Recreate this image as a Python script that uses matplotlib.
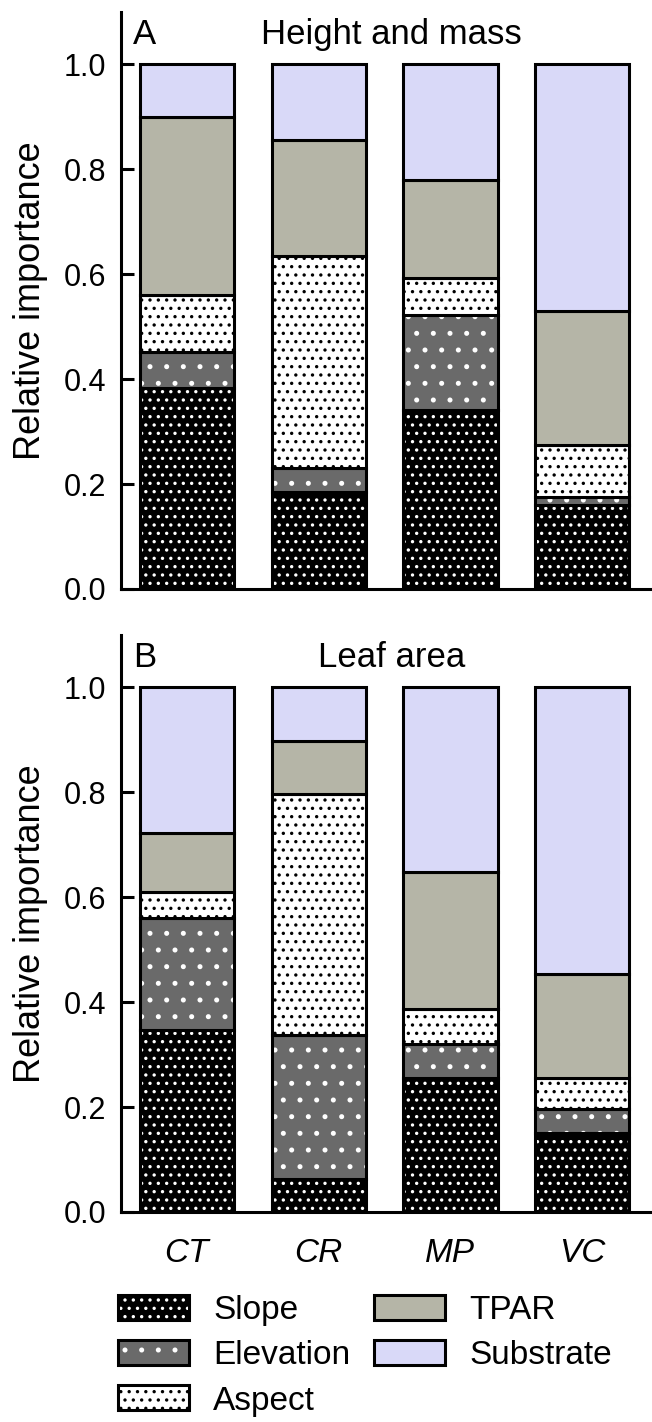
import matplotlib
matplotlib.use('Agg')
import matplotlib.pyplot as plt
from matplotlib.patches import Patch
import numpy as np

plt.rcParams['font.family'] = ['Liberation Sans', 'DejaVu Sans']
plt.rcParams['hatch.linewidth'] = 1.2

sites = ['CT', 'CR', 'MP', 'VC']
factors = ['Slope', 'Elevation', 'Aspect', 'TPAR', 'Substrate']

# relative importance of each factor per site (segments stacked bottom to top)
height_mass = {
    'Slope':     [0.383, 0.185, 0.341, 0.160],
    'Elevation': [0.068, 0.045, 0.181, 0.015],
    'Aspect':    [0.109, 0.405, 0.070, 0.099],
    'TPAR':      [0.339, 0.220, 0.188, 0.256],
    'Substrate': [0.101, 0.145, 0.220, 0.470],
}
leaf_area = {
    'Slope':     [0.346, 0.063, 0.256, 0.151],
    'Elevation': [0.214, 0.274, 0.065, 0.046],
    'Aspect':    [0.050, 0.460, 0.065, 0.059],
    'TPAR':      [0.113, 0.100, 0.262, 0.197],
    'Substrate': [0.277, 0.103, 0.352, 0.547],
}

# face colour, hatch pattern, hatch colour
styles = {
    'Slope':     ('black', '..', 'white'),
    'Elevation': ('#6a6a6a', '.', 'white'),
    'Aspect':    ('white', '..', 'black'),
    'TPAR':      ('#b5b5a7', '', '#b5b5a7'),
    'Substrate': ('#d9d9f8', '', '#d9d9f8'),
}

fs_tick = 22
fs_label = 26
fs_title = 25
fs_leg = 24
lw = 2.2
bw = 0.715

fig = plt.figure(figsize=(6.52, 14.22), dpi=100)
axA = fig.add_axes([0.1856, 0.5858, 0.8144, 0.4058])
axB = fig.add_axes([0.1856, 0.1477, 0.8144, 0.4058])

x = np.arange(len(sites))


def draw(ax, data, letter, title):
    bottom = np.zeros(len(sites))
    for f in factors:
        vals = np.array(data[f])
        face, hatch, hcol = styles[f]
        ax.bar(x, vals, bw, bottom=bottom, color=face, hatch=hatch,
               edgecolor=hcol, linewidth=0)
        ax.bar(x, vals, bw, bottom=bottom, fill=False, edgecolor='black',
               linewidth=lw)
        bottom += vals
    ax.set_xlim(-0.5, 3.53)
    ax.set_ylim(0, 1.1)
    ax.set_yticks([0.0, 0.2, 0.4, 0.6, 0.8, 1.0])
    ax.set_yticklabels(['0.0', '0.2', '0.4', '0.6', '0.8', '1.0'])
    ax.spines['top'].set_visible(False)
    ax.spines['right'].set_visible(False)
    ax.spines['left'].set_linewidth(lw)
    ax.spines['bottom'].set_linewidth(lw)
    ax.tick_params(axis='y', direction='in', length=9.5, width=lw,
                   labelsize=fs_tick, pad=10.5)
    ax.set_ylabel('Relative importance', fontsize=fs_label)
    ax.yaxis.set_label_coords(-0.137, 0.5)
    ax.text(0.022, 0.99, letter, transform=ax.transAxes, fontsize=fs_title,
            va='top', ha='left')
    ax.text(0.51, 0.99, title, transform=ax.transAxes, fontsize=fs_title,
            va='top', ha='center')


draw(axA, height_mass, 'A', 'Height and mass')
draw(axB, leaf_area, 'B', 'Leaf area')

axA.set_xticks([])
axB.set_xticks(x)
axB.set_xticklabels(sites, fontsize=fs_leg, style='italic')
axB.tick_params(axis='x', length=0, pad=19)

handles = []
for f in factors:
    face, hatch, hcol = styles[f]
    handles.append((Patch(facecolor=face, hatch=hatch, edgecolor=hcol, linewidth=0),
                    Patch(fill=False, edgecolor='black', linewidth=lw)))

fig.legend(handles, factors, loc='upper left', bbox_to_anchor=(0.181, 0.0892),
           ncol=2, frameon=False, fontsize=fs_leg, handlelength=2.13,
           handleheight=0.78, handletextpad=0.72, labelspacing=0.42,
           columnspacing=0.72, borderpad=0, borderaxespad=0)

fig.savefig('out.png', dpi=100)
